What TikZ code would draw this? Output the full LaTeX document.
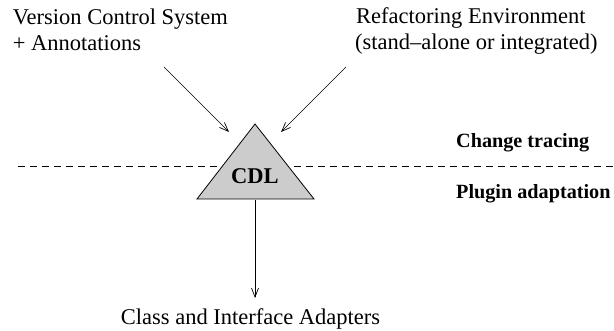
\documentclass[tikz,border=0pt]{standalone}
\usepackage{fontspec}
\setmainfont{Liberation Serif}
\usetikzlibrary{arrows.meta}
\begin{document}
\begin{tikzpicture}[x=1pt,y=-1pt,
  lbl/.style={anchor=base west,inner sep=0pt,font=\fontsize{22.5}{26}\selectfont},
  blbl/.style={anchor=base west,inner sep=0pt,font=\fontsize{20.2}{26}\selectfont\bfseries},
  arr/.style={line width=0.7pt,-{Straight Barb[length=9pt,width=7pt]}}]
\useasboundingbox (0,0) rectangle (614,331);
% texts
\node[lbl] (vcs1) at (12.7,25) {Version Control System};
\node[lbl] (vcs2) at (12.7,51) {+ Annotations};
\node[lbl] (ref1) at (356,24) {Refactoring Environment};
\node[lbl] (ref2) at (355,50) {(stand\textendash alone or integrated)};
\node[blbl] (ct) at (456,148) {Change tracing};
\node[blbl] (pa) at (456,199) {Plugin adaptation};
\node[lbl] (cia) at (120.7,325) {Class and Interface Adapters};
% dashed line
\coordinate (dl) at (18,166);
\coordinate (dr) at (614,166);
\draw[line width=0.7pt,dash pattern=on 7pt off 5pt] (dl) -- (dr);
% triangle
\coordinate (apex) at (255,124);
\coordinate (bl) at (197,199);
\coordinate (br) at (314,199);
\draw[line width=0.8pt,fill=black!20] (apex) -- (bl) -- (br) -- cycle;
\node[blbl,anchor=base,font=\fontsize{22.5}{26}\selectfont\bfseries] (cdl) at (255,184) {CDL};
% arrows
\coordinate (s1) at (164,67);
\coordinate (e1) at (229,132);
\coordinate (s2) at (346,67);
\coordinate (e2) at (281,132);
\coordinate (s3) at (255,200);
\coordinate (e3) at (255,298);
\draw[arr] (s1) -- (e1);
\draw[arr] (s2) -- (e2);
\draw[arr] (s3) -- (e3);
\end{tikzpicture}
\end{document}
